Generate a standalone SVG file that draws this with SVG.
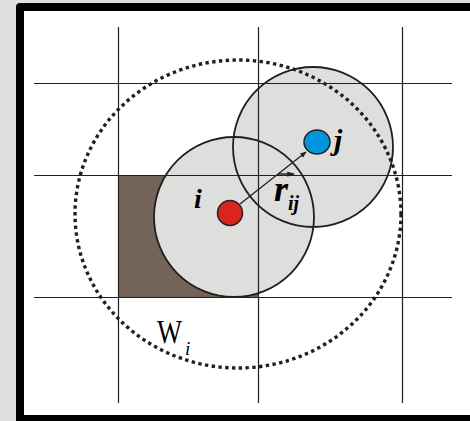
<svg xmlns="http://www.w3.org/2000/svg" width="470" height="421" viewBox="0 0 470 421">
<defs>
<style>
.grid{stroke:#231f20;stroke-width:1.2;fill:none}
.disk{fill:#dededd;stroke:none}
.rim{fill:none;stroke:#231f20;stroke-width:1.8}
.lbl{font-family:"Liberation Serif",serif;fill:#000}
</style>
<marker id="ah" viewBox="0 0 10 10" refX="9" refY="5" markerWidth="5" markerHeight="5" orient="auto" markerUnits="strokeWidth">
<path d="M0,1 L10,5 L0,9 Z" fill="#231f20"/>
</marker>
<marker id="ah2" viewBox="0 0 10 10" refX="9" refY="5" markerWidth="5" markerHeight="5" orient="auto" markerUnits="strokeWidth">
<path d="M0,1.5 L10,5 L0,8.5 Z" fill="#231f20"/>
</marker>
</defs>
<rect x="0" y="0" width="470" height="421" fill="#e0e0e0"/>
<rect x="16" y="3" width="470" height="430" rx="4" fill="#000"/>
<rect x="24" y="11" width="460" height="404" fill="#fff"/>

<g id="cell">
<rect x="118" y="175" width="140" height="122" fill="#736358"/>
</g>
<g id="disks">
<circle class="disk" cx="234" cy="217" r="80"/>
<circle class="disk" cx="313" cy="147" r="80"/>
<circle class="rim" cx="234" cy="217" r="80"/>
<circle class="rim" cx="313" cy="147" r="80"/>
</g>
<g id="grid">
<line class="grid" x1="118.5" y1="27" x2="118.5" y2="403"/>
<line class="grid" x1="258.5" y1="27" x2="258.5" y2="403"/>
<line class="grid" x1="402.5" y1="27" x2="402.5" y2="403"/>
<line class="grid" x1="34" y1="83.5" x2="452" y2="83.5"/>
<line class="grid" x1="34" y1="175.5" x2="452" y2="175.5"/>
<line class="grid" x1="34" y1="297.5" x2="452" y2="297.5"/>
</g>
<g id="Wi">
<ellipse cx="238" cy="214" rx="163" ry="154" fill="none" stroke="#231f20" stroke-width="3.4" stroke-dasharray="3.4 3.4"/>
<text class="lbl" x="157" y="343" font-size="33" textLength="25" lengthAdjust="spacingAndGlyphs">W</text>
<text class="lbl" x="185" y="355" font-size="19" font-style="italic">i</text>
</g>
<g id="connectors">
<line x1="240" y1="204" x2="306" y2="152" stroke="#231f20" stroke-width="1.3" marker-end="url(#ah)"/>
<line x1="278" y1="174" x2="294" y2="174" stroke="#231f20" stroke-width="1.5" marker-end="url(#ah2)"/>
</g>
<g id="node-i">
<circle cx="230" cy="213" r="12.5" fill="#d9251d" stroke="#231f20" stroke-width="1.5"/>
<text class="lbl" x="194" y="208" font-size="28" font-style="italic" font-weight="bold">i</text>
</g>
<g id="node-j">
<ellipse cx="317" cy="142" rx="13" ry="12" fill="#0095da" stroke="#231f20" stroke-width="1.5"/>
<text class="lbl" x="334" y="150" font-size="30" font-style="italic" font-weight="bold">j</text>
</g>
<g id="rij">
<text class="lbl" x="274" y="201" font-size="36" font-style="italic" font-weight="bold">r</text>
<text class="lbl" x="288" y="210" font-size="20" font-style="italic" font-weight="bold">ij</text>
</g>
</svg>
